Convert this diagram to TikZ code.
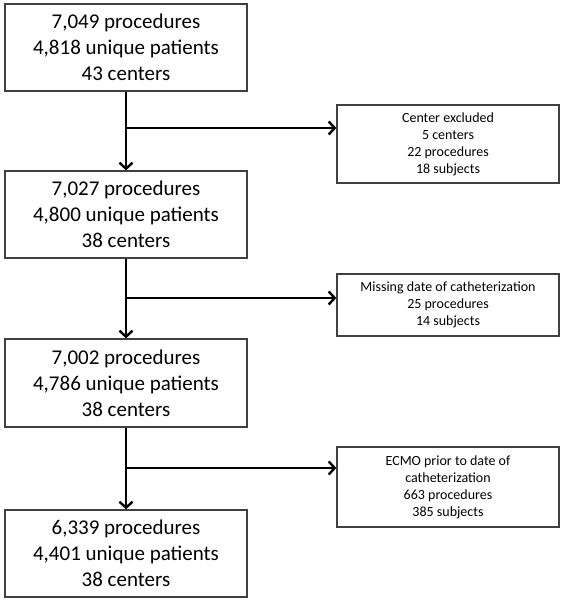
\documentclass[tikz,border=0pt]{standalone}
\usepackage{fontspec}
\setmainfont{Carlito}
\usetikzlibrary{arrows.meta}
\begin{document}
\begin{tikzpicture}[x=1pt,y=-1pt,
  mainbox/.style={draw=black!75, line width=1.3pt, minimum width=242pt, minimum height=87pt, align=center, font=\fontsize{21}{26}\selectfont, inner sep=0pt},
  sidebox/.style={draw=black!75, line width=1.3pt, minimum width=222pt, align=center, font=\fontsize{14}{17}\selectfont, inner sep=0pt},
  arr/.style={line width=2.6pt, -{Straight Barb[length=6pt,width=13pt,line width=2.4pt]}}]
\useasboundingbox (0,0) rectangle (564,601);
\node[mainbox] (b1) at (126,47.5) {7,049 procedures\\4,818 unique patients\\43 centers};
\node[mainbox] (b2) at (126,214.5) {7,027 procedures\\4,800 unique patients\\38 centers};
\node[mainbox, minimum height=88pt] (b3) at (126,383) {7,002 procedures\\4,786 unique patients\\38 centers};
\node[mainbox] (b4) at (126,553.5) {6,339 procedures\\4,401 unique patients\\38 centers};
\node[sidebox, minimum height=78pt] (s1) at (448,144) {Center excluded\\5 centers\\22 procedures\\18 subjects};
\node[sidebox, minimum height=62pt] (s2) at (448,305) {Missing date of catheterization\\25 procedures\\14 subjects};
\node[sidebox, minimum height=80pt] (s3) at (448,487) {ECMO prior to date of\\catheterization\\663 procedures\\385 subjects};
\coordinate (j1) at (126,128);
\coordinate (j2) at (126,298);
\coordinate (j3) at (126,468);
\draw[arr] (b1.south) -- (b2.north);
\draw[arr] (b2.south) -- (b3.north);
\draw[arr] (b3.south) -- (b4.north);
\draw[arr] (j1) -- (j1 -| s1.west);
\draw[arr] (j2) -- (j2 -| s2.west);
\draw[arr] (j3) -- (j3 -| s3.west);
\end{tikzpicture}
\end{document}
